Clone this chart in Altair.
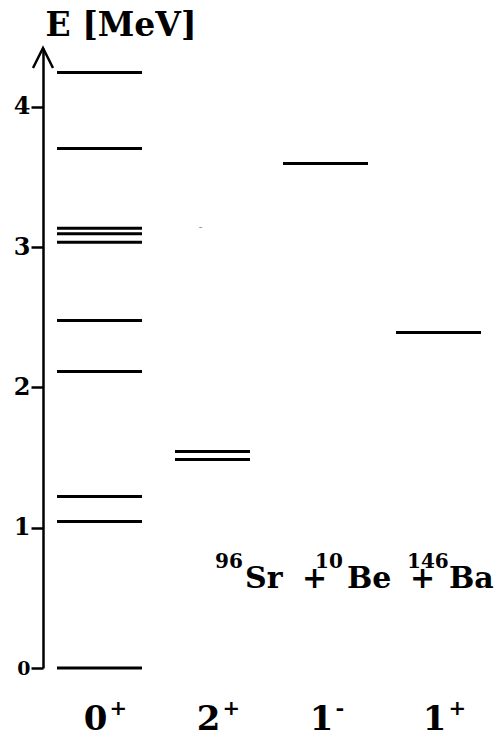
import altair as alt
import pandas as pd

# ---- data ----
columns = ["0+", "2+", "1-", "1+"]
levels_0p = [0.0, 1.044, 1.222, 2.113, 2.476, 3.035, 3.095, 3.135, 3.703, 4.244]
levels_2p = [1.486, 1.543]
levels_1m = [3.596]
levels_1p = [2.391]
faint_2p = [3.135]
spins = ["0", "2", "1", "1"]
parities = ["+", "+", "-", "+"]
reaction_main = ["Sr", "+", "Be", "+", "Ba"]
reaction_sup = ["96", "10", "146"]
y_ticks = [0, 1, 2, 3, 4]

# ---- layout (pixels, not data) ----
W, H = 451, 620
PAD = {"left": 35, "top": 40, "right": 0, "bottom": 64}
reaction_main_x = [202, 259, 304, 367, 406]
reaction_sup_x = [172, 272, 364]
FONT = "DejaVu Serif"

lev = pd.DataFrame(
    [{"col": "0+", "E": e} for e in levels_0p]
    + [{"col": "1-", "E": e} for e in levels_1m]
    + [{"col": "1+", "E": e} for e in levels_1p]
)
lev2 = pd.DataFrame([{"col": "2+", "E": e} for e in levels_2p])
faint = pd.DataFrame([{"col": "2+", "E": e} for e in faint_2p])
labels = pd.DataFrame({"col": columns, "spin": spins, "parity": parities})
rmain = pd.DataFrame({"t": reaction_main, "x": reaction_main_x})
rsup = pd.DataFrame({"t": reaction_sup, "x": reaction_sup_x})

xs = alt.Scale(type="point", domain=columns, range=[56.5, 395.5], padding=0)
ys = alt.Scale(domain=[0, 4.419], nice=False, zero=False)

X = alt.X("col:N", scale=xs, axis=None)
Y = alt.Y(
    "E:Q",
    scale=ys,
    axis=alt.Axis(
        values=y_ticks,
        format="d",
        grid=False,
        domainColor="black",
        domainWidth=2.5,
        tickColor="black",
        tickWidth=2.5,
        tickSize=12,
        labelFont=FONT,
        labelFontWeight="bold",
        labelFontSize={"condition": {"test": "datum.value == 0", "value": 19}, "value": 24},
        labelColor="black",
        labelPadding=1,
        title="E [MeV]",
        titleFont=FONT,
        titleFontSize=33,
        titleFontWeight="bold",
        titleColor="black",
        titleAngle=0,
        titleAlign="left",
        titleBaseline="alphabetic",
        titleX=2,
        titleY=-13,
    ),
)

levels_layer = alt.Chart(lev).mark_tick(color="black", thickness=3, size=85, opacity=1).encode(x=X, y=Y)
levels2_layer = alt.Chart(lev2).mark_tick(color="black", thickness=3, size=75, opacity=1).encode(x=X, y="E:Q")
faint_layer = alt.Chart(faint).mark_text(
    text="-", font=FONT, fontSize=11, color="#888888", dx=-12
).encode(x=X, y="E:Q")

arrow = alt.Chart(pd.DataFrame({"a": [0]})).mark_point(
    shape="M-1,2L0,0L1,2", size=400, filled=False, color="black", strokeWidth=2.5, opacity=1
).encode(x=alt.value(0), y=alt.value(0))

spin_layer = alt.Chart(labels).mark_text(
    font=FONT, fontWeight="bold", fontSize=34, color="black", align="right", baseline="alphabetic", dx=8
).encode(x=X, y=alt.value(682), text="spin:N")
par_layer = alt.Chart(labels).mark_text(
    font=FONT, fontWeight="bold", fontSize=21, color="black", align="left", baseline="alphabetic", dx=10
).encode(x=X, y=alt.value(667), text="parity:N")

rmain_layer = alt.Chart(rmain).mark_text(
    font=FONT, fontWeight="bold", fontSize=30, color="black", align="left", baseline="alphabetic"
).encode(x=alt.X("x:Q", scale=None), y=alt.value(540), text="t:N")
rsup_layer = alt.Chart(rsup).mark_text(
    font=FONT, fontWeight="bold", fontSize=20, color="black", align="left", baseline="alphabetic"
).encode(x=alt.X("x:Q", scale=None), y=alt.value(520), text="t:N")

chart = (
    alt.layer(levels_layer, levels2_layer, faint_layer, arrow, spin_layer, par_layer, rmain_layer, rsup_layer)
    .properties(width=W, height=H, padding=PAD, autosize=alt.AutoSizeParams(type="none"), background="white")
    .configure_view(stroke=None)
)

chart.save("out.html", embed_options={"renderer": "svg", "actions": False})
